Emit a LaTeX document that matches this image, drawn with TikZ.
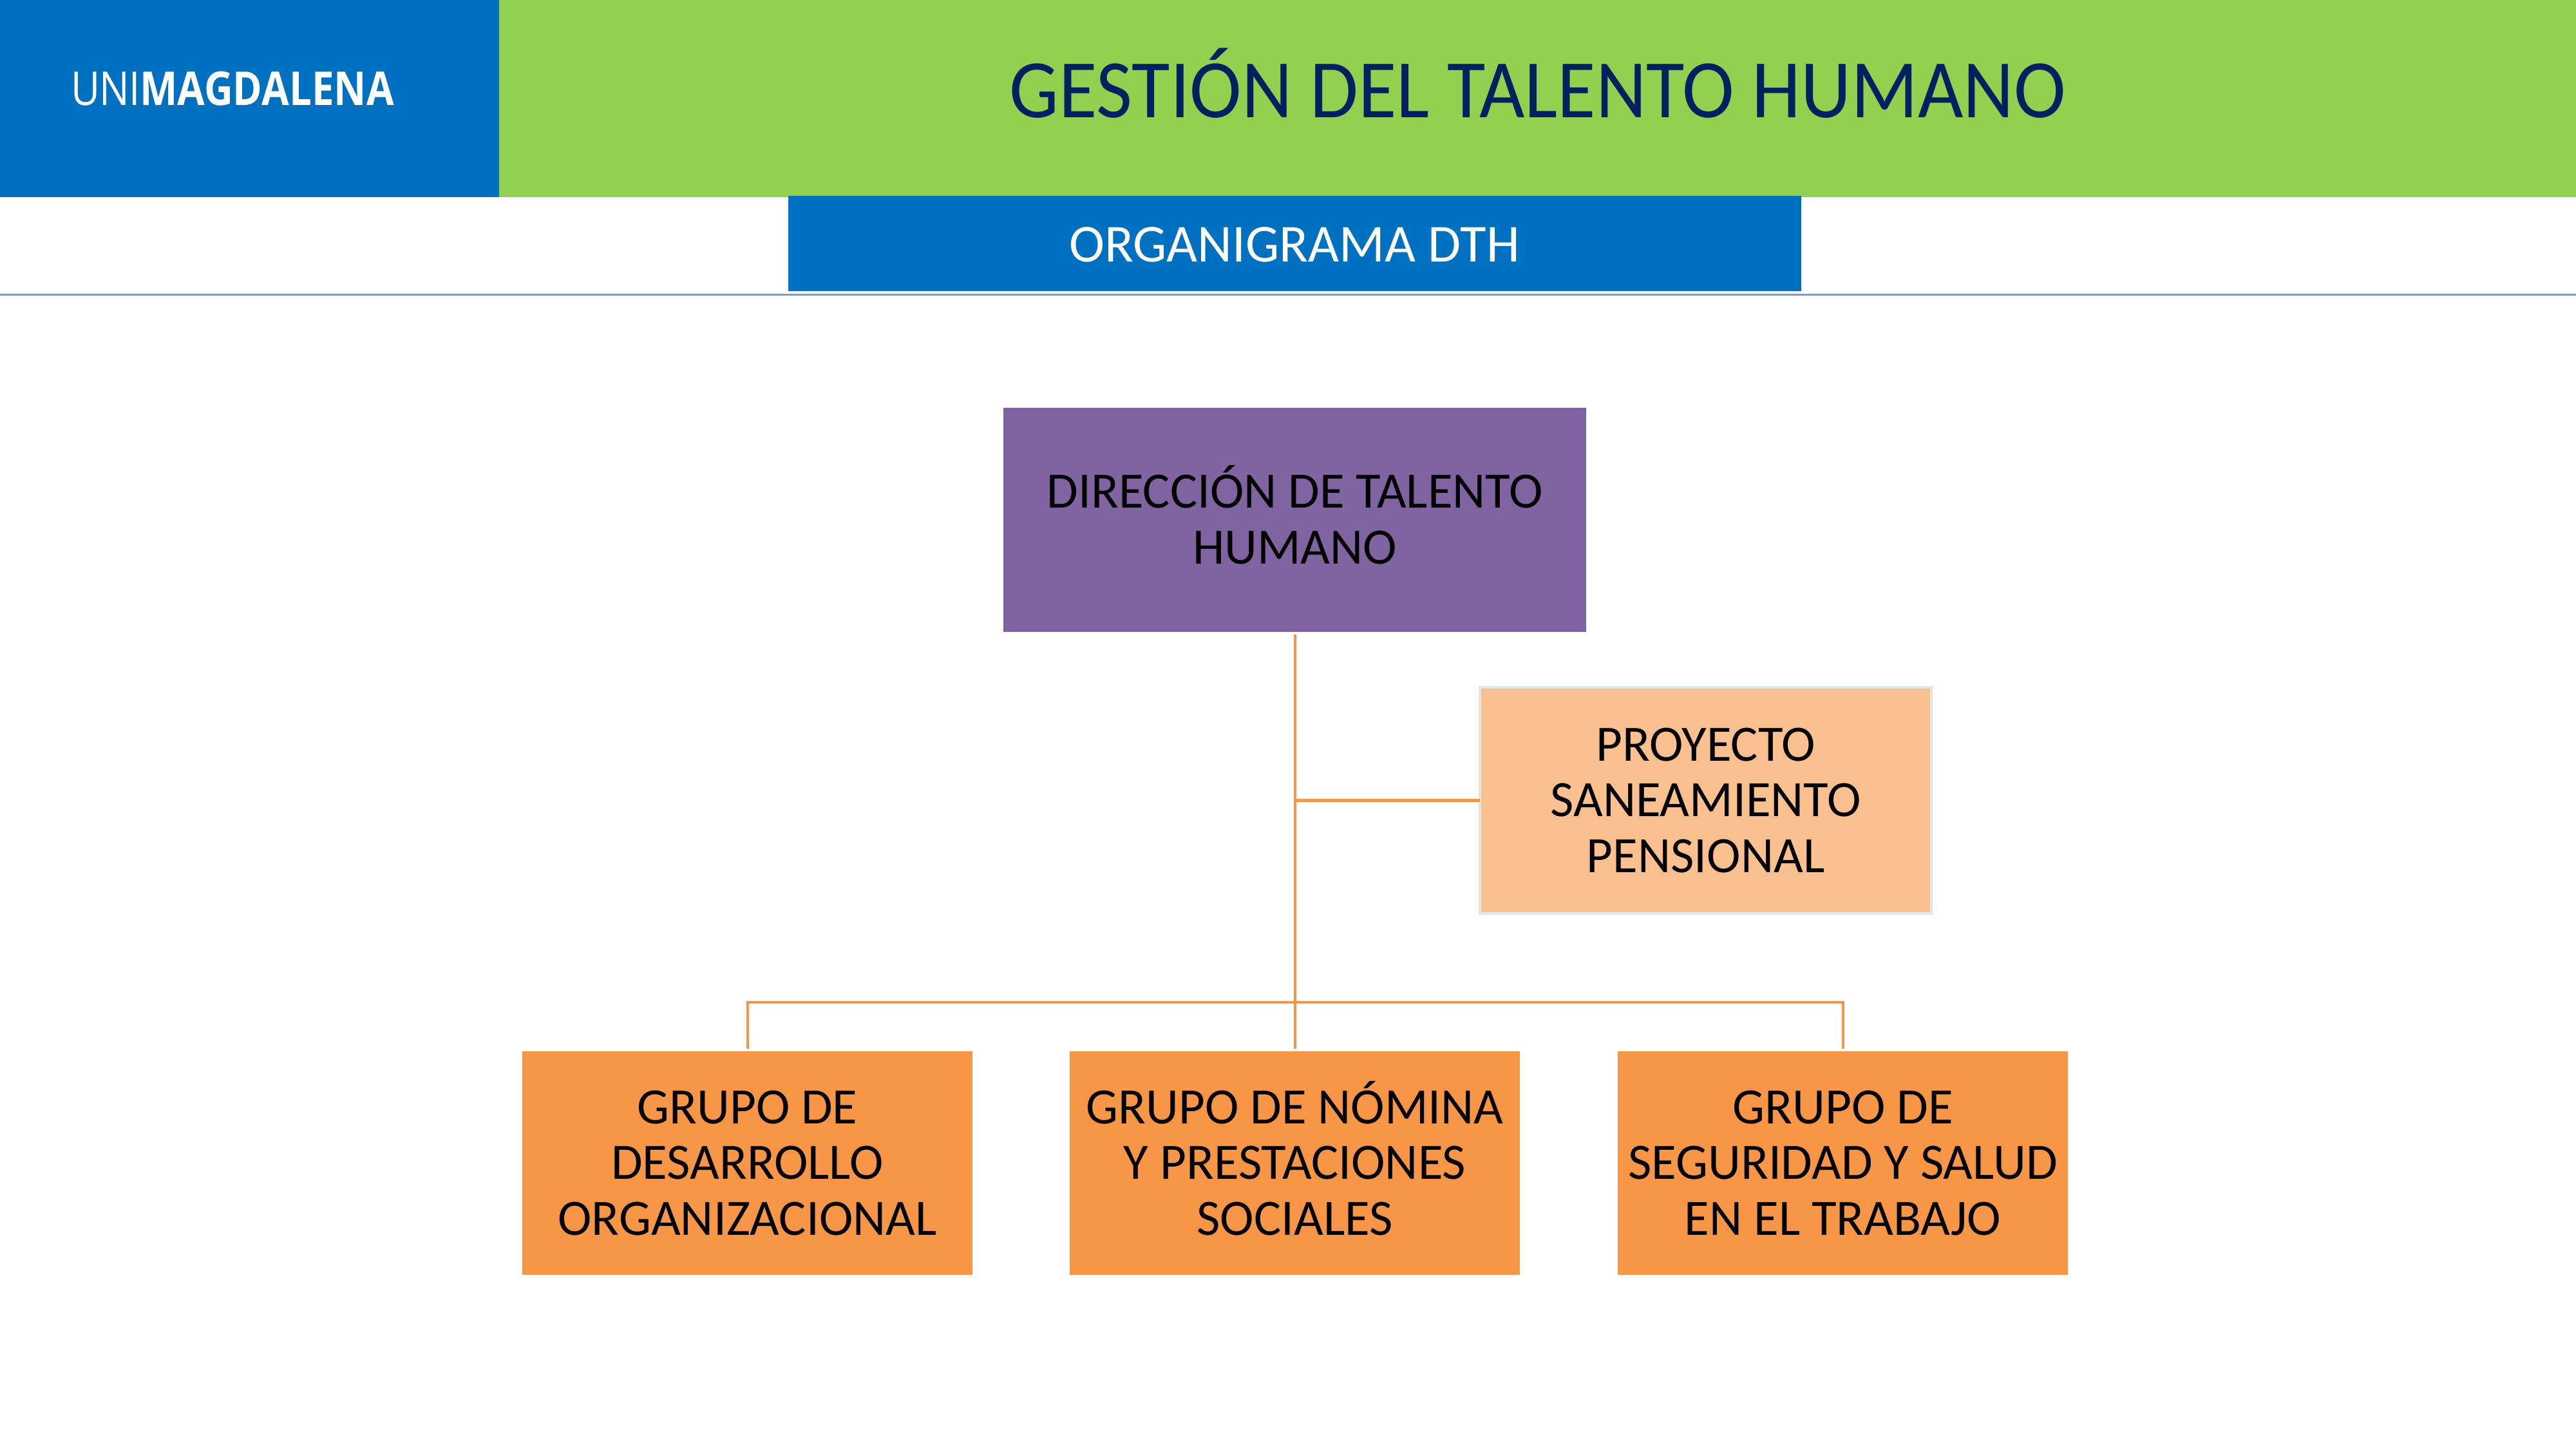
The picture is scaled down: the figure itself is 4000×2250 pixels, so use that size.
\documentclass[tikz,border=0pt]{standalone}
\usepackage{fontspec}
\setmainfont{Carlito}
\newfontfamily\logofont{Open Sans}
\definecolor{uniblue}{HTML}{0070C0}
\definecolor{unigreen}{HTML}{92D050}
\definecolor{navy}{HTML}{002060}
\definecolor{violetbox}{HTML}{8064A2}
\definecolor{orangebox}{HTML}{F79646}
\definecolor{peachbox}{HTML}{FAC090}
\definecolor{rulecol}{HTML}{7F9DC4}
\tikzset{
  x=0.01cm,y=-0.01cm,
  band/.style={draw=none,inner sep=0,outer sep=0,anchor=north west},
  orgbox/.style={inner sep=0,outer sep=0,align=center,text=black,font=\fontsize{22.5}{24.7}\selectfont},
  groupbox/.style={orgbox,fill=orangebox,minimum width=6.99cm,minimum height=3.47cm},
  link/.style={draw=orangebox,line width=0.04cm},
}
\begin{document}
\begin{tikzpicture}
\useasboundingbox (0,0) rectangle (4000,2250);
\fill[white] (0,0) rectangle (4000,2250);
\node[band,fill=unigreen,minimum width=32.25cm,minimum height=3.06cm] (topgreen) at (775,0) {};
\node[band,fill=uniblue,minimum width=7.75cm,minimum height=3.06cm] (topblue) at (0,0) {};
\node[inner sep=0,text=white,anchor=west] (logo) at (110,138) {\logofont\fontsize{20}{24}\selectfont\scalebox{0.88}[1.03]{\addfontfeature{LetterSpace=-2}\fontseries{l}\selectfont UNI}\scalebox{0.88}[1.03]{\bfseries MAGDALENA}};
\node[inner sep=0,text=navy,font=\fontsize{34.6}{40}\selectfont] (title) at (2388,141.5) {\scalebox{1}[1.06]{\smash{GESTIÓN} DEL TALENTO HUMANO}};
\node[band,fill=uniblue,minimum width=15.72cm,minimum height=1.48cm] (subbar) at (1224,304) {};
\node[inner sep=0,text=white,font=\fontsize{23.6}{26}\selectfont] (subtitle) at (2010,379.5) {ORGANIGRAMA DTH};
\coordinate (ruleL) at (0,457);
\coordinate (ruleR) at (4000,457);
\draw[rulecol,line width=0.03cm] (ruleL) -- (ruleR);

\node[orgbox,fill=violetbox,minimum width=9.05cm,minimum height=3.48cm] (dir) at (2010.5,807) {\smash{DIRECCIÓN} DE TALENTO\\HUMANO};
\node[orgbox,fill=peachbox,draw=black!10,line width=0.04cm,minimum width=7cm,minimum height=3.51cm] (proy) at (2648.5,1242.5) {PROYECTO\\SANEAMIENTO\\PENSIONAL};
\node[groupbox] (g1) at (1160.5,1805.5) {GRUPO DE\\DESARROLLO\\ORGANIZACIONAL};
\node[groupbox] (g2) at (2010.5,1805.5) {GRUPO DE \smash{NÓMINA}\\Y PRESTACIONES\\SOCIALES};
\node[groupbox] (g3) at (2861.5,1805.5) {GRUPO DE\\SEGURIDAD Y SALUD\\EN EL TRABAJO};

\coordinate (bus) at (2010.5,1556);
\coordinate (busL) at (1160.5,1556);
\coordinate (busR) at (2861.5,1556);
\coordinate (tee) at (2010.5,1242.5);
\draw[link,shorten <=0.04cm,shorten >=0.04cm] (dir.south) -- (g2.north);
\draw[link,line width=0.05cm] (tee) -- (proy.west);
\draw[link,shorten >=0.04cm] (busL) -- (g1.north);
\draw[link,shorten >=0.04cm] (busR) -- (g3.north);
\draw[link,line cap=rect] (busL) -- (bus) -- (busR);
\end{tikzpicture}
\end{document}
